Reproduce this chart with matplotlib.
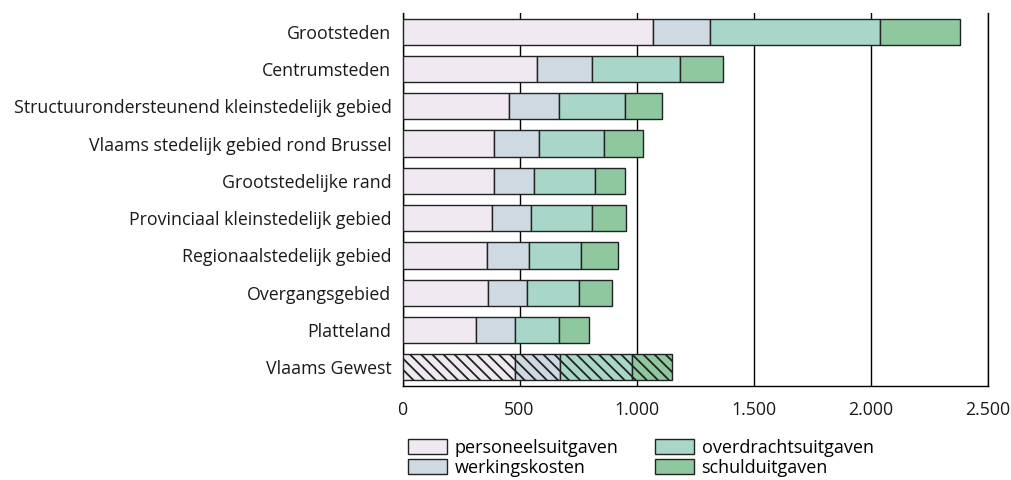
import numpy as np
import matplotlib
matplotlib.use('Agg')
import matplotlib.pyplot as plt

plt.rcParams['font.family'] = ['Open Sans', 'DejaVu Sans']
plt.rcParams['hatch.linewidth'] = 1.3

gebieden = [
    'Grootsteden',
    'Centrumsteden',
    'Structuurondersteunend kleinstedelijk gebied',
    'Vlaams stedelijk gebied rond Brussel',
    'Grootstedelijke rand',
    'Provinciaal kleinstedelijk gebied',
    'Regionaalstedelijk gebied',
    'Overgangsgebied',
    'Platteland',
    'Vlaams Gewest',
]
personeel = [1070, 575, 454, 389, 389, 384, 360, 364, 312, 479]
werking = [245, 235, 213, 193, 172, 167, 182, 170, 167, 193]
overdracht = [726, 375, 284, 281, 263, 258, 219, 219, 189, 307]
schuld = [342, 183, 159, 165, 127, 144, 162, 141, 128, 173]

reeksen = ['personeelsuitgaven', 'werkingskosten', 'overdrachtsuitgaven', 'schulduitgaven']
kleuren = ['#f0e9f2', '#cfd9e2', '#a8d6c8', '#8fc89f']

fig = plt.figure(figsize=(10.11, 4.8), dpi=100)
ax = fig.add_axes([402.5 / 1011, 1 - 386 / 480, 585 / 1011, 373 / 480])

y = np.arange(len(gebieden))
links = np.zeros(len(gebieden))
for naam, waarden, kleur in zip(reeksen, [personeel, werking, overdracht, schuld], kleuren):
    waarden = np.array(waarden, dtype=float)
    bars = ax.barh(y, waarden, left=links, height=0.7, color=kleur,
                   edgecolor='#222222', linewidth=1.0, label=naam, zorder=3)
    # laatste balk (Vlaams Gewest) gearceerd
    bars[-1].set_hatch('\\\\\\')
    links += waarden

ax.set_xlim(0, 2500)
ax.set_ylim(len(gebieden) - 0.5, -0.5)
ax.set_xticks([0, 500, 1000, 1500, 2000, 2500])
ax.set_xticklabels(['0', '500', '1.000', '1.500', '2.000', '2.500'])
ax.set_yticks(y)
ax.set_yticklabels(gebieden)
ax.tick_params(axis='both', length=0, labelsize=12.8, colors='#1a1a1a')
ax.tick_params(axis='y', pad=8)
ax.tick_params(axis='x', pad=11)
ax.grid(True, axis='x', color='black', linewidth=1.0, zorder=0)
ax.spines['top'].set_visible(False)
for kant in ['left', 'bottom', 'right']:
    ax.spines[kant].set_linewidth(1.0)

handles, labels = ax.get_legend_handles_labels()
fig.legend(handles, labels, ncol=2, loc='upper left',
           bbox_to_anchor=(395 / 1011, 1 - 426 / 480), frameon=False,
           fontsize=13, handlelength=2.2, handleheight=0.85,
           handletextpad=0.4, labelspacing=0.12, columnspacing=2.0,
           borderpad=0.2)

fig.savefig('out.png', dpi=100)
